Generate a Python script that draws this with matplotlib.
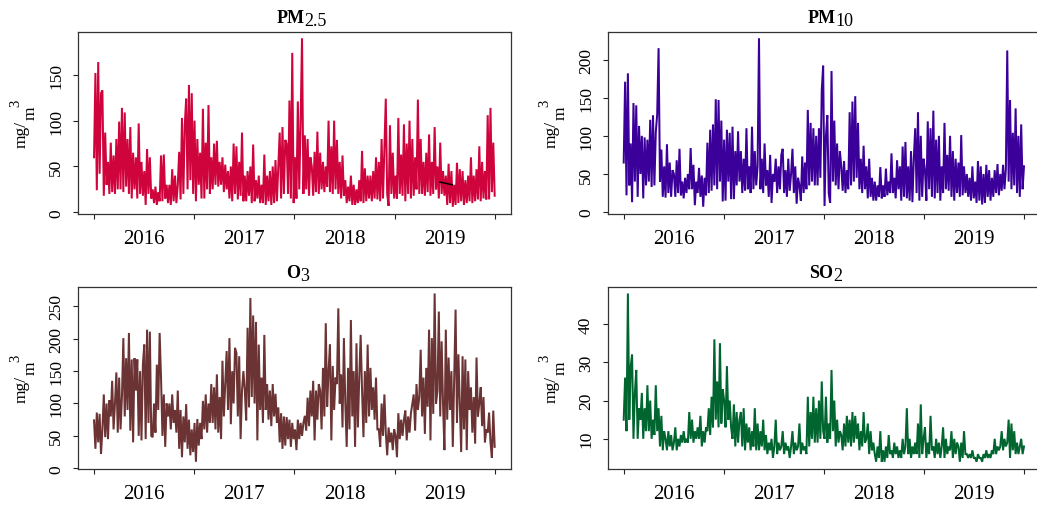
import numpy as np
import matplotlib
matplotlib.use("Agg")
import matplotlib.pyplot as plt

plt.rcParams["font.family"] = ["Liberation Serif", "DejaVu Serif"]

# ---- data: six readings per month, Jan 2016 .. Dec 2019 ----
pm25 = [
    60, 152, 24, 164, 42, 130,   133, 18, 87, 30, 55, 20,   76, 22, 62, 20, 80, 25,
    99, 25, 114, 22, 109, 28,    80, 20, 93, 15, 65, 25,    60, 15, 97, 20, 55, 18,
    45, 8, 69, 20, 60, 15,       25, 10, 28, 8, 22, 12,     62, 12, 63, 15, 30, 10,
    30, 8, 47, 12, 40, 10,       30, 66, 14, 103, 20, 95,   124, 25, 139, 35, 130, 20,
    100, 12, 80, 30, 65, 15,     113, 15, 76, 25, 117, 20,  60, 25, 75, 30, 78, 28,
    55, 30, 60, 22, 52, 25,      45, 15, 50, 12, 75, 20,    72, 14, 55, 18, 87, 12,
    40, 12, 45, 18, 50, 10,      74, 12, 35, 15, 40, 10,    30, 10, 63, 8, 40, 12,
    45, 8, 50, 10, 57, 12,       50, 87, 15, 93, 20, 79,    75, 20, 122, 15, 174, 10,
    60, 15, 121, 25, 100, 190,   20, 84, 25, 80, 18, 60,    50, 18, 66, 22, 88, 20,
    65, 25, 55, 22, 50, 28,      100, 22, 72, 20, 100, 25,  79, 20, 55, 15, 62, 18,
    35, 10, 28, 12, 40, 8,       30, 8, 25, 10, 35, 12,     67, 10, 48, 12, 40, 15,
    40, 12, 45, 15, 60, 14,      55, 12, 80, 15, 70, 124,   20, 7, 95, 20, 65, 15,
    40, 15, 103, 20, 63, 18,     96, 12, 75, 20, 100, 15,   80, 18, 60, 25, 123, 20,
    80, 20, 55, 18, 65, 22,      85, 18, 55, 20, 93, 25,    50, 15, 76, 20, 45, 18,
    40, 8, 53, 10, 45, 6,        30, 8, 54, 10, 47, 12,     45, 8, 35, 10, 40, 12,
    60, 10, 40, 12, 47, 14,      72, 12, 55, 15, 45, 14,    106, 14, 114, 22, 76, 18,
]
# short gap-filled stretch of PM2.5 in mid 2019
pm25_fill_t = [2019.453, 2019.577]
pm25_fill = [33, 30]

pm10 = [
    65, 171, 22, 182, 35, 90,    13, 143, 40, 140, 20, 113, 50, 100, 18, 98, 35, 95,
    40, 121, 33, 127, 35, 105,   128, 215, 40, 82, 20, 60,  19, 89, 25, 65, 20, 55,
    50, 20, 68, 25, 83, 22,      40, 18, 45, 25, 50, 30,    84, 30, 62, 9, 40, 25,
    58, 20, 48, 7, 45, 22,       91, 25, 108, 28, 115, 35,  148, 30, 147, 40, 120, 14,
    95, 15, 108, 40, 104, 17,    112, 17, 80, 35, 106, 40,  80, 25, 70, 28, 110, 30,
    60, 25, 112, 30, 80, 35,     60, 228, 30, 70, 25, 90,   35, 55, 20, 75, 12, 50,
    40, 70, 25, 60, 30, 75,      83, 25, 55, 20, 70, 28,    50, 83, 25, 60, 11, 45,
    35, 15, 73, 25, 65, 30,      134, 35, 117, 40, 110, 35, 100, 35, 110, 45, 160, 192,
    8, 100, 127, 25, 12, 185,    40, 120, 35, 90, 30, 80,   60, 28, 67, 25, 55, 30,
    131, 35, 145, 40, 152, 45,   117, 30, 70, 25, 87, 30,   60, 18, 70, 20, 45, 15,
    40, 15, 35, 20, 59, 18,      35, 20, 57, 22, 40, 25,    77, 25, 45, 18, 68, 30,
    60, 15, 86, 20, 92, 18,      60, 15, 80, 13, 70, 110,   25, 131, 15, 100, 20, 70,
    55, 15, 119, 30, 110, 20,    133, 18, 95, 25, 100, 15,  60, 25, 117, 30, 75, 28,
    100, 20, 80, 15, 70, 25,     65, 20, 101, 22, 60, 25,   50, 20, 45, 15, 60, 18,
    40, 12, 67, 15, 60, 10,      50, 12, 62, 20, 55, 15,    45, 20, 55, 25, 63, 22,
    50, 28, 62, 30, 56, 212,     40, 147, 30, 104, 35, 136, 25, 100, 20, 115, 30, 60,
]

o3 = [
    74, 30, 86, 40, 84, 22,      60, 114, 48, 100, 45, 105, 80, 135, 60, 100, 148, 55,
    140, 60, 110, 201, 80, 170,  90, 209, 58, 168, 40, 170, 120, 168, 50, 150, 43, 160,
    191, 45, 214, 70, 211, 50,   48, 100, 55, 160, 90, 209, 140, 50, 114, 33, 100, 80,
    100, 60, 114, 70, 90, 55,    120, 30, 90, 17, 80, 40,   99, 30, 75, 20, 60, 25,
    70, 10, 76, 35, 70, 45,      104, 60, 114, 55, 100, 70, 130, 70, 125, 60, 145, 55,
    110, 45, 166, 80, 130, 181,  90, 201, 68, 150, 100, 186, 178, 80, 173, 45, 120, 150,
    120, 74, 217, 94, 263, 110,  236, 100, 226, 43, 191, 90, 140, 70, 206, 90, 130, 75,
    120, 65, 130, 80, 115, 70,   94, 40, 85, 30, 80, 35,   79, 45, 75, 33, 70, 45,
    60, 28, 75, 45, 70, 50,      70, 81, 58, 109, 65, 120,  80, 135, 43, 120, 75, 130,
    120, 60, 155, 80, 224, 95,   150, 191, 43, 158, 90, 140, 130, 247, 100, 145, 63, 201,
    100, 33, 155, 60, 229, 80,   150, 33, 193, 63, 140, 206, 120, 48, 150, 70, 191, 80,
    155, 90, 125, 75, 140, 60,   60, 33, 100, 50, 114, 55,  20, 63, 40, 55, 28, 60,
    50, 17, 85, 45, 75, 50,      75, 89, 43, 80, 55, 85,    100, 114, 58, 130, 90, 110,
    183, 80, 140, 53, 155, 95,   214, 43, 201, 84, 270, 100, 120, 242, 80, 196, 100, 28,
    214, 75, 171, 90, 150, 33,   140, 245, 70, 176, 100, 25, 173, 60, 168, 28, 150, 90,
    125, 55, 110, 38, 171, 80,   100, 125, 65, 110, 40, 60, 55, 86, 40, 16, 89, 33,
]

so2 = [
    15, 26, 12, 48, 15, 29,      32, 10, 22, 28, 10, 18,    15, 22, 10, 18, 12, 24,
    12, 20, 10, 15, 11, 24,      12, 18, 8, 16, 7, 12,      10, 7, 12, 8, 11, 7,
    9, 13, 7, 10, 8, 11,         9, 12, 9, 10, 9, 17,       10, 15, 9, 12, 10, 13,
    10, 16, 8, 12, 9, 13,        12, 18, 11, 21, 13, 36,    15, 25, 13, 35, 14, 23,
    20, 13, 29, 15, 20, 13,      10, 19, 8, 17, 9, 15,      17, 8, 18, 7, 14, 9,
    13, 7, 12, 8, 18, 7,         14, 7, 12, 8, 15, 7,       11, 6, 9, 7, 10, 5,
    8, 15, 6, 9, 7, 8,           12, 6, 9, 7, 8, 5,         8, 12, 6, 9, 7, 8,
    14, 6, 9, 7, 8, 6,           21, 8, 17, 10, 21, 9,      18, 9, 20, 10, 25, 12,
    10, 21, 9, 14, 10, 28,       12, 20, 8, 15, 9, 12,      11, 7, 14, 8, 16, 9,
    15, 8, 17, 9, 16, 10,        14, 7, 12, 8, 17, 9,       10, 14, 6, 12, 7, 9,
    6, 4, 8, 5, 12, 4,           7, 4, 8, 5, 11, 6,         7, 5, 9, 6, 8, 5,
    7, 5, 10, 6, 8, 18,          6, 10, 5, 8, 6, 9,         6, 14, 5, 19, 6, 10,
    13, 5, 9, 6, 16, 7,          8, 5, 10, 6, 9, 5,         8, 13, 5, 10, 6, 8,
    7, 12, 5, 10, 6, 9,          8, 4, 9, 5, 12, 6,         6, 5, 6, 5, 7, 5,
    5, 4, 6, 5, 5, 4,            6, 5, 7, 5, 6, 5,          7, 6, 10, 6, 8, 7,
    8, 12, 7, 10, 8, 9,          15, 5, 14, 7, 12, 6,       9, 6, 8, 10, 6, 8,
]

years = [2016, 2017, 2018, 2019]
year_edges = [2016, 2017, 2018, 2019, 2020]

titles = [("PM", "2.5"), ("PM", "10"), ("O", "3"), ("SO", "2")]
colors = ["#D0043C", "#3A0099", "#6B3333", "#00652F"]
yticks = [[0, 50, 100, 150], [0, 50, 100, 150, 200],
          [0, 50, 100, 150, 200, 250], [10, 20, 30, 40]]
series = [pm25, pm10, o3, so2]

# ---- layout (pixels) ----
W, H = 1037, 506
fig = plt.figure(figsize=(W / 100, H / 100), dpi=100)
boxes = [(78, 32.5, 510.7, 214.5), (607.7, 32.5, 1040, 214.5),
         (78, 287.7, 510.7, 469.5), (607.7, 287.7, 1040, 469.5)]
title_dx = [7, 7, 3, 2]

axes = []
for (l, t, r, b), vals, col, yt in zip(boxes, series, colors, yticks):
    ax = fig.add_axes([l / W, 1 - b / H, (r - l) / W, (b - t) / H])
    n = len(vals)
    tt = year_edges[0] + (year_edges[-1] - year_edges[0]) * np.arange(n) / (n - 1)
    ax.plot(tt, vals, color=col, lw=1.45, solid_joinstyle="miter")
    ax.margins(x=0.04, y=0.04)
    ax.set_xticks(year_edges)
    ax.set_xticklabels([])
    ax.set_xticks([y + 0.5 for y in years], minor=True)
    ax.set_xticklabels([str(y) for y in years], minor=True)
    ax.tick_params(axis="x", which="major", length=3.8, width=0.8, color="#222222")
    ax.tick_params(axis="x", which="minor", length=0, pad=11, labelsize=15)
    ax.set_yticks(yt)
    ax.tick_params(axis="y", length=3.8, width=0.8, color="#222222",
                   labelsize=12.5, pad=6, labelrotation=90)
    for lab in ax.get_yticklabels():
        lab.set_va("center")
    for sp in ax.spines.values():
        sp.set_linewidth(0.9)
        sp.set_color("#333333")
    axes.append(ax)

axes[0].plot(pm25_fill_t, pm25_fill, color="black", lw=1.1)

fig.canvas.draw()
renderer = fig.canvas.get_renderer()


def composite_title(box, main, sub, dx, fs=13):
    l, t, r, b = box
    cx = (l + r) / 2 + dx
    base = t - 9.5
    t1 = fig.text(0, 0, main, fontsize=fs, fontweight="bold")
    t2 = fig.text(0, 0, sub, fontsize=fs)
    w1 = t1.get_window_extent(renderer).width
    w2 = t2.get_window_extent(renderer).width
    x0 = cx - (w1 + w2) / 2
    t1.set_position((x0 / W, 1 - base / H))
    t1.set_va("baseline")
    t2.set_position(((x0 + w1) / W, 1 - (base + 3) / H))
    t2.set_va("baseline")


def composite_ylabel(box, fs=12.5):
    l, t, r, b = box
    cy = (t + b) / 2
    xb = l - 52
    pieces = [("mg/", fs, 0), ("m", fs, 9), ("3", fs * 0.85, -7)]
    texts, lens = [], []
    for s, size, shift in pieces:
        tx = fig.text(0, 0, s, fontsize=size, rotation=90, rotation_mode="anchor",
                      ha="left", va="baseline")
        texts.append((tx, shift))
        lens.append(tx.get_window_extent(renderer).height)
    y = cy + sum(lens) / 2
    for (tx, shift), ln in zip(texts, lens):
        tx.set_position(((xb + shift) / W, 1 - y / H))
        y -= ln


for box, (m, s), dx in zip(boxes, titles, title_dx):
    composite_title(box, m, s, dx)
    composite_ylabel(box)

fig.savefig("out.png", dpi=100)
